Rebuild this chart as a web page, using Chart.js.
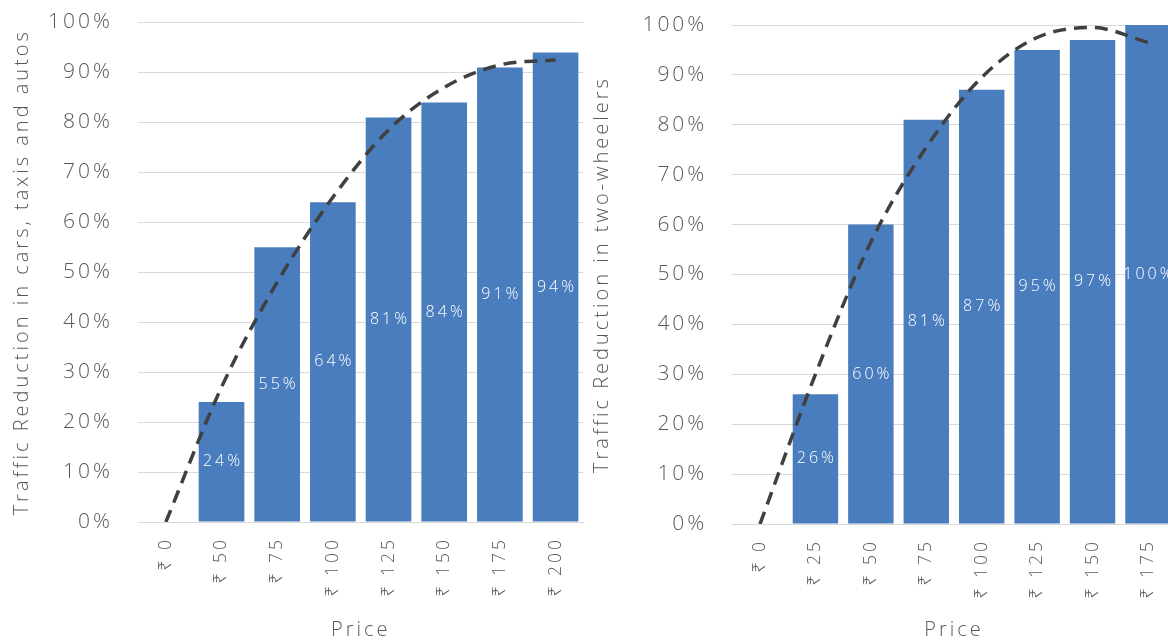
<!DOCTYPE html>
<html>
<head>
<meta charset="utf-8">
<script src="https://cdn.jsdelivr.net/npm/chart.js@4/dist/chart.umd.min.js"></script>
<style>
  html, body { margin: 0; padding: 0; background: #ffffff; overflow: hidden; width: 1168px; height: 643px; }
  canvas { position: absolute; top: 0; }
  #carsChart { left: 0; }
  #bikesChart { left: 580px; }
</style>
</head>
<body>
<canvas id="carsChart" width="592" height="643"></canvas>
<canvas id="bikesChart" width="610" height="643"></canvas>
<script>
// Congestion price levels and the share of traffic they remove
const carPrices = ['₹ 0', '₹ 50', '₹ 75', '₹ 100', '₹ 125', '₹ 150', '₹ 175', '₹ 200'];
const carReduction = [0, 24, 55, 64, 81, 84, 91, 94];
const carTrend = [0, 27, 48, 65, 78.5, 87, 91.5, 92.5];

const bikePrices = ['₹ 0', '₹ 25', '₹ 50', '₹ 75', '₹ 100', '₹ 125', '₹ 150', '₹ 175'];
const bikeReduction = [0, 26, 60, 81, 87, 95, 97, 100];
const bikeTrend = [0, 30, 56.5, 75.5, 89.5, 97.5, 99.5, 96.5];

const percentTicks = [0, 10, 20, 30, 40, 50, 60, 70, 80, 90, 100];

const FONT = "'Open Sans', 'Noto Sans', 'DejaVu Sans', sans-serif";
const TEXT = '#595959';
const BAR = '#4a7dbd';
const GRID = '#d9d9d9';

Chart.defaults.font.family = FONT;
Chart.defaults.font.weight = '300';
Chart.defaults.color = TEXT;

// Wide tracking for every piece of chart text
const tracking = {
  id: 'tracking',
  beforeDraw(chart) { chart.ctx.letterSpacing = '3px'; }
};

// White value labels centred inside each non-zero bar
const barValueLabels = {
  id: 'barValueLabels',
  afterDatasetDraw(chart, args) {
    if (args.meta.type !== 'bar') return;
    const ctx = chart.ctx;
    const values = chart.data.datasets[args.index].data;
    ctx.save();
    ctx.font = "300 16px " + FONT;
    ctx.fillStyle = '#ffffff';
    ctx.textAlign = 'center';
    ctx.textBaseline = 'middle';
    args.meta.data.forEach((bar, i) => {
      const v = values[i];
      if (!v) return;
      const p = bar.getProps(['x', 'y', 'base'], true);
      ctx.fillText(v + '%', p.x + 1.5, (p.y + p.base) / 2);
    });
    ctx.restore();
  }
};

function makeChart(id, labels, bars, trend, yTitle, geom) {
  return new Chart(document.getElementById(id), {
    type: 'bar',
    data: {
      labels: labels,
      datasets: [
        {
          type: 'bar',
          data: bars,
          backgroundColor: BAR,
          borderWidth: 0,
          categoryPercentage: 1,
          barPercentage: 0.82,
          order: 1
        },
        {
          type: 'line',
          data: trend,
          borderColor: '#404040',
          borderWidth: 3.5,
          borderDash: [13, 8],
          pointRadius: 0,
          fill: false,
          cubicInterpolationMode: 'monotone',
          order: 0
        }
      ]
    },
    options: {
      responsive: false,
      animation: false,
      devicePixelRatio: 1,
      layout: { padding: geom.padding },
      plugins: { legend: { display: false }, tooltip: { enabled: false } },
      scales: {
        x: {
          grid: { display: false, drawTicks: false },
          border: { display: true, color: GRID, width: 1 },
          ticks: {
            minRotation: 90, maxRotation: 90, padding: 15,
            font: { size: 17.5, weight: '300' }, color: TEXT
          },
          title: {
            display: true, text: 'Price',
            font: { size: 20, weight: '300' }, color: TEXT,
            padding: { top: 0, bottom: 1 }
          },
          afterFit(s) { s.height = geom.xHeight; }
        },
        y: {
          min: 0, max: 100,
          grid: { color: GRID, lineWidth: 1, drawTicks: false },
          border: { display: false },
          afterBuildTicks(s) { s.ticks = percentTicks.map(v => ({ value: v })); },
          ticks: {
            padding: 25,
            font: { size: 21, weight: '300' }, color: TEXT,
            callback: v => v + '%'
          },
          title: {
            display: true, text: yTitle,
            font: { size: geom.yTitleSize, weight: '300' }, color: TEXT,
            padding: { top: 0, bottom: 0 }
          },
          afterFit(s) {
            s.width = geom.yWidth;
            s.paddingTop = 0;
            s.paddingBottom = 0;
          }
        }
      }
    },
    plugins: [tracking, barValueLabels]
  });
}

makeChart('carsChart', carPrices, carReduction, carTrend,
  'Traffic Reduction in cars, taxis and autos',
  { padding: { left: 10, right: 7, top: 22.5, bottom: 0 }, yWidth: 128, xHeight: 121, yTitleSize: 20 });

makeChart('bikesChart', bikePrices, bikeReduction, bikeTrend,
  'Traffic Reduction in two-wheelers',
  { padding: { left: 10, right: 14.3, top: 25, bottom: 0 }, yWidth: 142.3, xHeight: 119, yTitleSize: 20 });
</script>
</body>
</html>
